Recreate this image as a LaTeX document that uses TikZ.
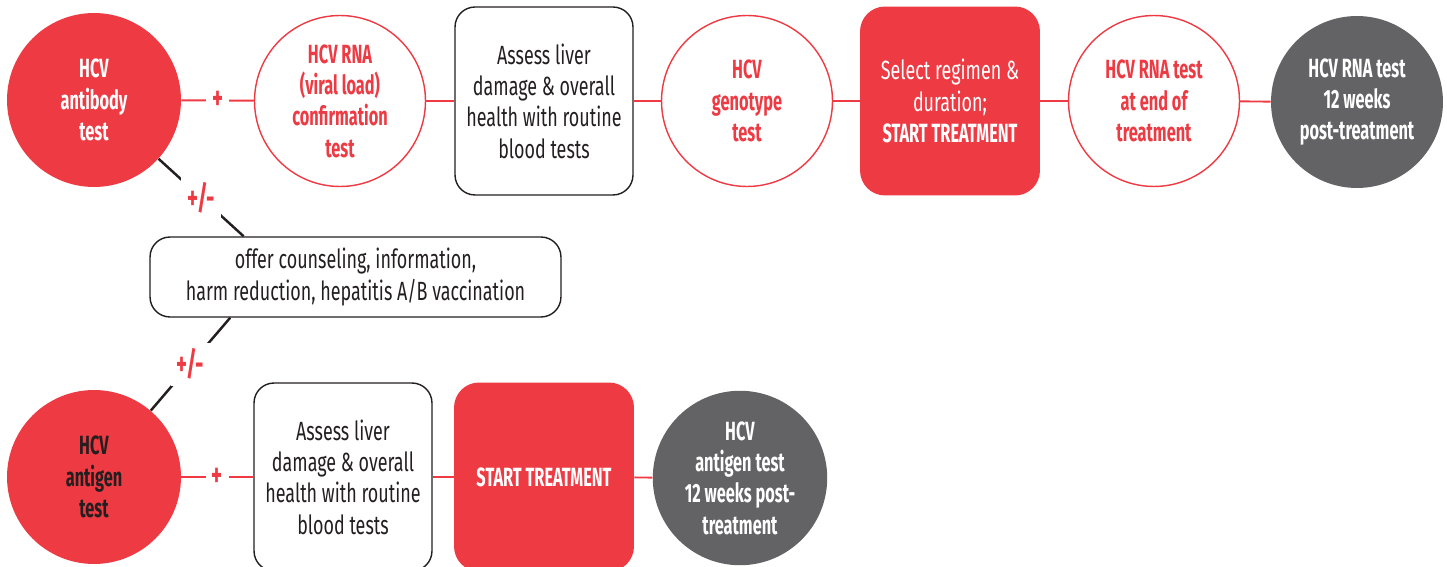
\documentclass[tikz,border=0pt]{standalone}
\usepackage{fontspec}
\setmainfont{Fira Sans}[FakeStretch=0.68,BoldFeatures={FakeStretch=0.62}]
\usepackage{tikz}

\definecolor{hcvred}{HTML}{EE3A43}
\definecolor{hcvgray}{HTML}{636365}
\definecolor{hcvdark}{HTML}{231F20}

\begin{document}
\begin{tikzpicture}[x=0.02cm,y=-0.02cm,
	font=\fontsize{15}{17.8}\selectfont,
	redtest/.style={circle,fill=hcvred,minimum size=3.48cm,align=center,font=\fontsize{15}{17.8}\selectfont\bfseries},
	opentest/.style={circle,draw=hcvred,line width=0.8pt,fill=white,text=hcvred,minimum size=3.42cm,align=center,font=\fontsize{15}{17.8}\selectfont\bfseries},
	greytest/.style={circle,fill=hcvgray,text=white,minimum size=3.44cm,align=center,font=\fontsize{15}{17.8}\selectfont\bfseries},
	infobox/.style={draw=hcvdark,line width=0.8pt,rounded corners=0.4cm,text=hcvdark,minimum width=3.56cm,minimum height=3.76cm,align=center},
	treatbox/.style={fill=hcvred,text=white,rounded corners=0.5cm,minimum width=3.6cm,minimum height=3.78cm,align=center},
	link/.style={draw=hcvred,line width=1.1pt},
	offer/.style={draw=hcvdark,line width=1.4pt},
	sign/.style={fill=white,text=hcvred,inner sep=0.12cm,font=\fontsize{19}{20}\selectfont\bfseries}]
\useasboundingbox (0,0) rectangle (1447,567);

% top row: antibody route
\node [redtest,text=white] (ab) at (94,100) {HCV\\antibody\\test};
\node [opentest] (rna) at (340,101) {HCV RNA\\(viral load)\\confirmation\\test};
\node [infobox] (liver) at (544,101) {Assess liver\\damage \& overall\\health with routine\\blood tests};
\node [opentest] (geno) at (747,101) {HCV\\genotype\\test};
\node [treatbox] (regimen) at (950,101) {Select regimen \&\\duration;\\\textbf{START TREATMENT}};
\node [opentest] (eot) at (1154,101) {HCV RNA test\\at end of\\treatment};
\node [greytest] (svr) at (1357,102) {HCV RNA test\\12 weeks\\post-treatment};

% counseling in between
\node [infobox,minimum width=8.22cm,minimum height=1.6cm] (couns) at (355.5,277) {offer counseling, information,\\harm reduction, hepatitis A/B vaccination};

% bottom row: antigen route
\node [redtest,text=hcvdark] (ag) at (94,477) {HCV\\antigen\\test};
\node [infobox] (liverag) at (343,477) {Assess liver\\damage \& overall\\health with routine\\blood tests};
\node [treatbox,font=\fontsize{15}{17.8}\selectfont\bfseries] (startag) at (544,477) {START TREATMENT};
\node [greytest] (svrag) at (740,478) {HCV\\antigen test\\12 weeks post-\\treatment};

\draw [link] (ab) -- node[sign] {+} (rna);
\draw [link] (rna) -- (liver);
\draw [link] (liver) -- (geno);
\draw [link] (geno) -- (regimen);
\draw [link] (regimen) -- (eot);
\draw [link] (eot) -- (svr);

\draw [offer] (ab) -- node[sign] {+/-} (couns.160.9);
\draw [offer] (ag) -- node[sign] {+/-} (couns.198.6);

\draw [link] (ag) -- node[sign] {+} (liverag);
\draw [link] (liverag) -- (startag);
\draw [link] (startag) -- (svrag);
\end{tikzpicture}
\end{document}
